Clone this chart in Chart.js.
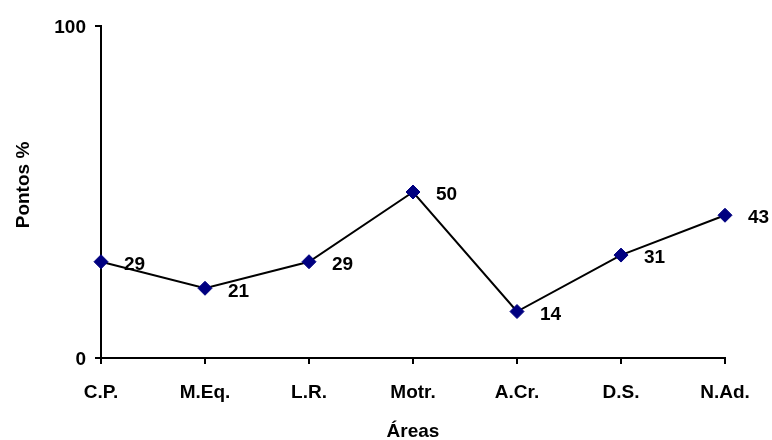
<!DOCTYPE html>
<html>
<head>
<meta charset="utf-8">
<script src="https://cdn.jsdelivr.net/npm/chart.js@4/dist/chart.umd.min.js"></script>
<style>
  html, body { margin: 0; padding: 0; background: #ffffff; }
  #wrap { width: 772px; height: 440px; }
</style>
</head>
<body>
<div id="wrap"><canvas id="c" width="772" height="440"></canvas></div>
<script>
const categories = ["C.P.", "M.Eq.", "L.R.", "Motr.", "A.Cr.", "D.S.", "N.Ad."];
const values = [29, 21, 29, 50, 14, 31, 43];
const yMin = 0;
const yMax = 100;
const xTitle = "Áreas";
const yTitle = "Pontos %";

const FONT = "'Liberation Sans', Arial, sans-serif";
const FS = 19;

const valueLabels = {
  id: 'valueLabels',
  afterDatasetsDraw(chart) {
    const ctx = chart.ctx;
    const meta = chart.getDatasetMeta(0);
    ctx.save();
    ctx.font = "bold " + FS + "px " + FONT;
    ctx.fillStyle = "#000000";
    ctx.textAlign = "left";
    ctx.textBaseline = "middle";
    meta.data.forEach((pt, i) => {
      ctx.fillText(String(chart.data.datasets[0].data[i]), pt.x + 23, pt.y + 3);
    });
    ctx.restore();
  }
};

const yAxisTitle = {
  id: 'yAxisTitle',
  afterDraw(chart) {
    const ctx = chart.ctx;
    const area = chart.chartArea;
    ctx.save();
    ctx.font = "bold " + FS + "px " + FONT;
    ctx.fillStyle = "#000000";
    ctx.textAlign = "center";
    ctx.textBaseline = "alphabetic";
    ctx.translate(29, (area.top + area.bottom) / 2 - 7);
    ctx.rotate(-Math.PI / 2);
    ctx.fillText(yTitle, 0, 0);
    ctx.restore();
  }
};

new Chart(document.getElementById('c'), {
  type: 'line',
  data: {
    labels: categories,
    datasets: [{
      data: values,
      borderColor: '#000000',
      borderWidth: 2,
      pointStyle: 'rectRot',
      pointRadius: 7,
      pointHoverRadius: 7,
      pointBackgroundColor: '#000080',
      pointBorderColor: '#000080',
      pointBorderWidth: 1,
      tension: 0,
      clip: false
    }]
  },
  options: {
    responsive: false,
    animation: false,
    events: [],
    layout: { padding: { left: 0, right: 47, top: 26, bottom: 0 } },
    plugins: { legend: { display: false }, tooltip: { enabled: false } },
    scales: {
      x: {
        type: 'category',
        offset: false,
        afterFit(scale) { scale.height = 82; },
        border: { display: true, color: '#000000', width: 2 },
        grid: { display: true, drawOnChartArea: false, drawTicks: true, tickLength: 6, color: '#000000', lineWidth: 2 },
        ticks: { color: '#000000', font: { family: FONT, size: FS, weight: 'bold' }, padding: 17, maxRotation: 0, autoSkip: false },
        title: { display: true, text: xTitle, color: '#000000', font: { family: FONT, size: FS, weight: 'bold', lineHeight: 0.9 }, padding: { top: 0, bottom: 0 } }
      },
      y: {
        min: yMin,
        max: yMax,
        afterFit(scale) { scale.width = 101; },
        border: { display: true, color: '#000000', width: 2 },
        grid: { display: true, drawOnChartArea: false, drawTicks: true, tickLength: 6, color: '#000000', lineWidth: 2 },
        ticks: { stepSize: 100, color: '#000000', font: { family: FONT, size: FS, weight: 'bold' }, padding: 9, labelOffset: 2 },
        title: { display: false }
      }
    }
  },
  plugins: [valueLabels, yAxisTitle]
});
</script>
</body>
</html>
